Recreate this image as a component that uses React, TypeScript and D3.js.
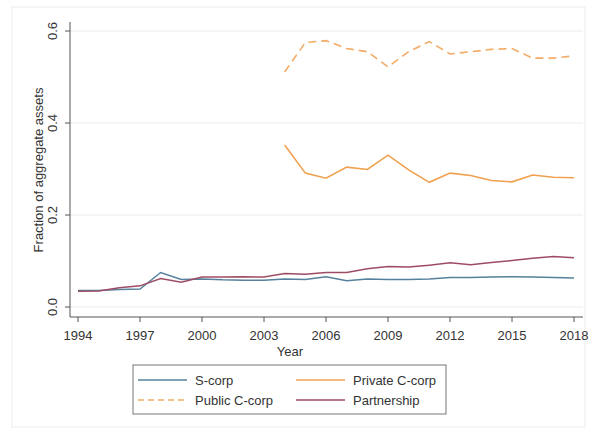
import React from "react";
import * as d3 from "d3";

const years = d3.range(1994, 2019);
const cYears = d3.range(2004, 2019);

const sCorp = [0.036, 0.036, 0.038, 0.039, 0.075, 0.060, 0.061, 0.059, 0.058, 0.058, 0.061, 0.060, 0.066, 0.057, 0.061, 0.060, 0.060, 0.061, 0.064, 0.064, 0.065, 0.066, 0.065, 0.064, 0.063];
const partnership = [0.034, 0.035, 0.042, 0.046, 0.062, 0.054, 0.065, 0.065, 0.066, 0.065, 0.073, 0.071, 0.075, 0.075, 0.083, 0.088, 0.087, 0.091, 0.096, 0.092, 0.097, 0.101, 0.106, 0.110, 0.107];
const privateC = [0.352, 0.291, 0.280, 0.304, 0.299, 0.330, 0.298, 0.271, 0.291, 0.286, 0.275, 0.272, 0.287, 0.282, 0.281];
const publicC = [0.511, 0.575, 0.579, 0.562, 0.555, 0.522, 0.555, 0.577, 0.550, 0.555, 0.560, 0.562, 0.541, 0.541, 0.546];

const xTicks = [1994, 1997, 2000, 2003, 2006, 2009, 2012, 2015, 2018];
const yTicks = [0, 0.2, 0.4, 0.6];

const COL_S = "#55819c";
const COL_PRIV = "#f0a04e";
const COL_PUB = "#f3ab66";
const COL_PART = "#9e4c64";

export default function App() {
  const x = d3.scaleLinear().domain([1994, 2018]).range([78, 574]);
  const y = d3.scaleLinear().domain([0, 0.6]).range([307, 31]);
  const line = d3
    .line<[number, number]>()
    .x((d) => x(d[0]))
    .y((d) => y(d[1]));
  const pair = (ys: number[], vs: number[]) => ys.map((yr, i) => [yr, vs[i]] as [number, number]);
  const font = "'Liberation Sans', Arial, sans-serif";
  const textCol = "#333";

  const legend = [
    { label: "S-corp", color: COL_S, dash: undefined, lx: 138, ly: 380 },
    { label: "Private C-corp", color: COL_PRIV, dash: undefined, lx: 296, ly: 380 },
    { label: "Public C-corp", color: COL_PUB, dash: "6,4", lx: 138, ly: 400 },
    { label: "Partnership", color: COL_PART, dash: undefined, lx: 296, ly: 400 },
  ];

  return (
    <svg
      width={589}
      height={430}
      style={{ position: "absolute", left: 0, top: 0, background: "#fff" }}
      fontFamily={font}
    >
      <rect x={12} y={7} width={573} height={420} fill="#fff" stroke="#ececec" strokeWidth={1} />
      {/* gridlines */}
      {yTicks.map((t) => (
        <line key={t} x1={70} x2={583} y1={y(t)} y2={y(t)} stroke="#ebebeb" strokeWidth={1} />
      ))}
      {/* axes */}
      <line x1={70} x2={70} y1={22} y2={317} stroke="#555" strokeWidth={1} />
      <line x1={70} x2={583} y1={317} y2={317} stroke="#555" strokeWidth={1} />
      {yTicks.map((t) => (
        <g key={t}>
          <line x1={65} x2={70} y1={y(t)} y2={y(t)} stroke="#555" />
          <text
            transform={`translate(${57},${y(t)}) rotate(-90)`}
            textAnchor="middle"
            fontSize={13}
            fill={textCol}
          >
            {d3.format(".1f")(t)}
          </text>
        </g>
      ))}
      {xTicks.map((t) => (
        <g key={t}>
          <line x1={x(t)} x2={x(t)} y1={317} y2={322} stroke="#555" />
          <text x={x(t)} y={340} textAnchor="middle" fontSize={13} fill={textCol}>
            {t}
          </text>
        </g>
      ))}
      <text x={290} y={356} textAnchor="middle" fontSize={13} fill={textCol}>
        Year
      </text>
      <text
        transform={`translate(${43},${170}) rotate(-90)`}
        textAnchor="middle"
        fontSize={13}
        fill={textCol}
      >
        Fraction of aggregate assets
      </text>
      {/* series */}
      <path d={line(pair(years, sCorp)) || ""} fill="none" stroke={COL_S} strokeWidth={1.5} />
      <path d={line(pair(years, partnership)) || ""} fill="none" stroke={COL_PART} strokeWidth={1.5} />
      <path d={line(pair(cYears, privateC)) || ""} fill="none" stroke={COL_PRIV} strokeWidth={1.6} />
      <path
        d={line(pair(cYears, publicC)) || ""}
        fill="none"
        stroke={COL_PUB}
        strokeWidth={1.6}
        strokeDasharray="8,5"
      />
      {/* legend */}
      <rect x={133} y={365} width={313} height={49} fill="#fff" stroke="#777" strokeWidth={1} />
      {legend.map((l) => (
        <g key={l.label}>
          <line
            x1={l.lx}
            x2={l.lx + 49}
            y1={l.ly}
            y2={l.ly}
            stroke={l.color}
            strokeWidth={1.5}
            strokeDasharray={l.dash}
          />
          <text x={l.lx + 57} y={l.ly + 5} fontSize={13} fill={textCol}>
            {l.label}
          </text>
        </g>
      ))}
    </svg>
  );
}
